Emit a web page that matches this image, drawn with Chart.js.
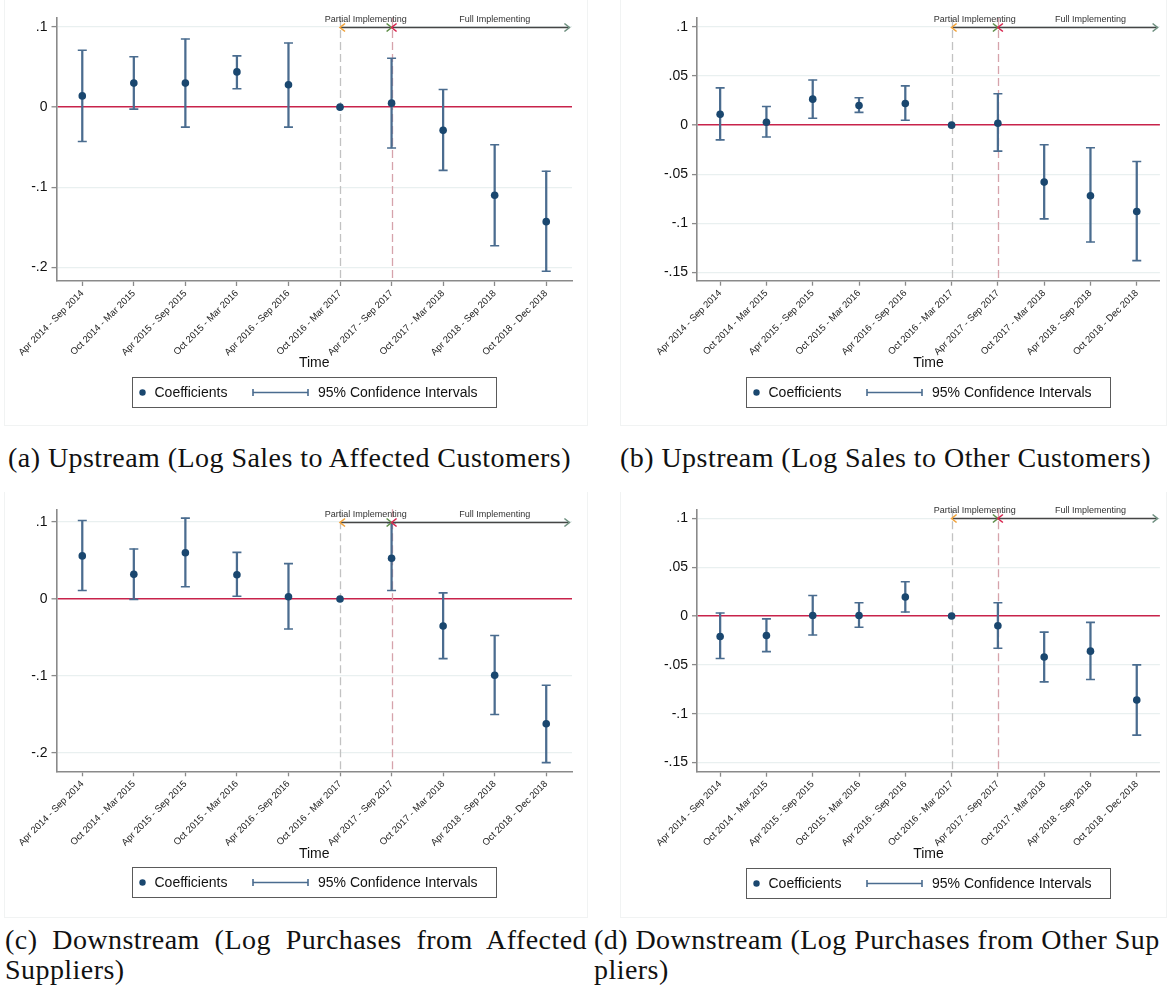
<!DOCTYPE html>
<html>
<head>
<meta charset="utf-8">
<title>Event study: supply-chain responses</title>
<script src="https://cdn.jsdelivr.net/npm/chart.js@4.4.1/dist/chart.umd.min.js"></script>
<style>
  html, body { margin: 0; padding: 0; background: #fff; }
  body { width: 1167px; height: 990px; position: relative; overflow: hidden; }
  .panel { position: absolute; border: 1px solid #f1f3f3; border-top: none; box-sizing: border-box; }
  .panel canvas { display: block; }
  .cap {
    position: absolute;
    font-family: "Liberation Serif", "DejaVu Serif", serif;
    font-size: 28px;
    letter-spacing: 0.45px;
    line-height: 30px;
    color: #111;
    white-space: nowrap;
  }
  .just { text-align: justify; text-align-last: justify; white-space: normal; }
</style>
</head>
<body>

<div class="panel" style="left:4px;top:0;width:584px;height:426px"><canvas id="chartA" width="582" height="425"></canvas></div>
<div class="panel" style="left:620px;top:0;width:547px;height:426px"><canvas id="chartB" width="545" height="425"></canvas></div>
<div class="panel" style="left:4px;top:492px;width:584px;height:426px"><canvas id="chartC" width="582" height="425"></canvas></div>
<div class="panel" style="left:620px;top:492px;width:547px;height:426px"><canvas id="chartD" width="545" height="425"></canvas></div>

<div class="cap" style="left:8px;top:443px">(a) Upstream (Log Sales to Affected Customers)</div>
<div class="cap" style="left:620px;top:443px">(b) Upstream (Log Sales to Other Customers)</div>
<div class="cap just" style="left:5px;top:925px;width:582px">(c) Downstream (Log Purchases from Affected</div>
<div class="cap" style="left:5px;top:955px">Suppliers)</div>
<div class="cap" style="left:594px;top:925px">(d) Downstream (Log Purchases from Other Sup</div>
<div class="cap" style="left:594px;top:955px">pliers)</div>

<script>
// Half-year periods on the horizontal axis
const periods = [
  'Apr 2014 - Sep 2014', 'Oct 2014 - Mar 2015', 'Apr 2015 - Sep 2015',
  'Oct 2015 - Mar 2016', 'Apr 2016 - Sep 2016', 'Oct 2016 - Mar 2017',
  'Apr 2017 - Sep 2017', 'Oct 2017 - Mar 2018', 'Apr 2018 - Sep 2018',
  'Oct 2018 - Dec 2018'
];

// (a) Upstream: log sales to affected customers
const coefA = [0.014, 0.030, 0.030, 0.044, 0.028, 0, 0.005, -0.029, -0.110, -0.143];
const lowA  = [-0.043, -0.0025, -0.025, 0.023, -0.025, null, -0.051, -0.079, -0.173, -0.205];
const highA = [0.071, 0.063, 0.085, 0.064, 0.080, null, 0.061, 0.022, -0.047, -0.080];

// (b) Upstream: log sales to other customers
const coefB = [0.011, 0.003, 0.0265, 0.020, 0.022, 0, 0.002, -0.058, -0.072, -0.088];
const lowB  = [-0.015, -0.012, 0.007, 0.013, 0.005, null, -0.0265, -0.0955, -0.119, -0.138];
const highB = [0.038, 0.019, 0.046, 0.028, 0.040, null, 0.032, -0.020, -0.023, -0.037];

// (c) Downstream: log purchases from affected suppliers
const coefC = [0.056, 0.032, 0.060, 0.0315, 0.003, 0, 0.053, -0.035, -0.099, -0.162];
const lowC  = [0.011, -0.0005, 0.016, 0.0035, -0.039, null, 0.011, -0.0775, -0.150, -0.2125];
const highC = [0.102, 0.065, 0.105, 0.0605, 0.046, null, 0.099, 0.008, -0.0475, -0.112];

// (d) Downstream: log purchases from other suppliers
const coefD = [-0.021, -0.020, 0.0005, 0.0005, 0.0195, 0, -0.010, -0.042, -0.036, -0.086];
const lowD  = [-0.0435, -0.0365, -0.0195, -0.0115, 0.004, null, -0.033, -0.0675, -0.065, -0.122];
const highD = [0.003, -0.003, 0.021, 0.0135, 0.035, null, 0.0135, -0.0165, -0.0065, -0.050];

// Y-axis ticks and their labels
const ticksWide   = [0.1, 0, -0.1, -0.2];
const labelsWide  = ['.1', '0', '-.1', '-.2'];
const ticksFine   = [0.1, 0.05, 0, -0.05, -0.1, -0.15];
const labelsFine  = ['.1', '.05', '0', '-.05', '-.1', '-.15'];

// Policy phases (period indices) and their labels
const partialStart = 5;
const fullStart = 6;
const fullEnd = 9.45;
const phaseLabelY = 0.1;
const partialText = 'Partial Implementing';
const fullText = 'Full Implementing';
const fullTextAt = 8;

const legendText = ['Coefficients', '95% Confidence Intervals'];

// Colours
const NAVY = '#1a476f';
const CI = '#4a6c8f';
const ZERO = '#c8234b';
const GRID = '#e9f0f0';
const AXIS = '#8a8a8a';
const SANS = '"Liberation Sans", Arial, sans-serif';

function capArrow(ctx, x, y, dir, color) {
  // dir = 1 : head pointing left ; dir = -1 : head pointing right
  ctx.save();
  ctx.strokeStyle = color;
  ctx.lineWidth = 1.6;
  ctx.beginPath();
  ctx.moveTo(x + dir * 5, y - 4);
  ctx.lineTo(x, y);
  ctx.lineTo(x + dir * 5, y + 4);
  ctx.stroke();
  ctx.restore();
}

const phasePlugin = {
  id: 'phases',
  beforeDatasetsDraw(chart) {
    const { ctx, chartArea: a, scales: { x } } = chart;
    ctx.save();
    ctx.lineWidth = 1.3;
    ctx.setLineDash([8, 4]);
    [[partialStart, '#c2c2c2'], [fullStart, '#d6a3ab']].forEach(([idx, col]) => {
      const px = Math.round(x.getPixelForValue(idx)) + 0.5;
      ctx.strokeStyle = col;
      ctx.beginPath();
      ctx.moveTo(px, a.top);
      ctx.lineTo(px, a.bottom);
      ctx.stroke();
    });
    ctx.restore();
  },
  afterDatasetsDraw(chart) {
    const { ctx, scales: { x, y } } = chart;
    const yy = Math.round(y.getPixelForValue(phaseLabelY)) + 0.5;
    const x0 = x.getPixelForValue(partialStart);
    const x1 = x.getPixelForValue(fullStart);
    const x2 = x.getPixelForValue(fullEnd);
    ctx.save();
    ctx.strokeStyle = '#454545';
    ctx.lineWidth = 1.6;
    ctx.beginPath();
    ctx.moveTo(x0 + 1, yy); ctx.lineTo(x1 - 1, yy);
    ctx.moveTo(x1 + 1, yy); ctx.lineTo(x2 - 1, yy);
    ctx.stroke();
    capArrow(ctx, x0, yy, 1, '#f2a33a');
    capArrow(ctx, x1, yy, -1, '#5f8f4a');
    capArrow(ctx, x1, yy, 1, '#d8264f');
    capArrow(ctx, x2, yy, -1, '#6f9080');
    ctx.fillStyle = '#333';
    ctx.font = '9px ' + SANS;
    ctx.textAlign = 'center';
    ctx.textBaseline = 'middle';
    ctx.fillText(partialText, x.getPixelForValue((partialStart + fullStart) / 2), yy - 8);
    ctx.fillText(fullText, x.getPixelForValue(fullTextAt), yy - 8);
    ctx.restore();
  }
};

const boxLegendPlugin = {
  id: 'boxLegend',
  afterDraw(chart) {
    const { ctx, chartArea: a, scales: { x } } = chart;
    ctx.save();
    ctx.font = '14px ' + SANS;
    const w1 = ctx.measureText(legendText[0]).width;
    const w2 = ctx.measureText(legendText[1]).width;
    const s0off = Math.max(120.5, 22 + w1 + 24);
    const width = Math.max(364, s0off + 55 + 10 + w2 + 14);
    const h = 30;
    const left = Math.round((a.left + a.right) / 2 - width / 2) + 0.5;
    const top = Math.round(x.bottom) + 1.5;
    const cy = top + h / 2;
    ctx.strokeStyle = '#5a5a5a';
    ctx.lineWidth = 1;
    ctx.strokeRect(left, top, width, h);
    // marker
    ctx.fillStyle = NAVY;
    ctx.beginPath();
    ctx.arc(left + 10, cy, 3.2, 0, Math.PI * 2);
    ctx.fill();
    ctx.fillStyle = '#111';
    ctx.textBaseline = 'middle';
    ctx.textAlign = 'left';
    ctx.fillText(legendText[0], left + 22, cy + 1);
    // capped interval symbol
    const s0 = left + s0off, s1 = s0 + 55;
    ctx.strokeStyle = CI;
    ctx.lineWidth = 1.6;
    ctx.beginPath();
    ctx.moveTo(s0, cy); ctx.lineTo(s1, cy);
    ctx.moveTo(s0, cy - 3.5); ctx.lineTo(s0, cy + 3.5);
    ctx.moveTo(s1, cy - 3.5); ctx.lineTo(s1, cy + 3.5);
    ctx.stroke();
    ctx.fillStyle = '#111';
    ctx.fillText(legendText[1], s1 + 10, cy + 1);
    ctx.restore();
  }
};

function makeChart(id, coef, low, high, yMin, yMax, tickVals, tickLabels, lay) {
  const intervals = low.map((l, i) => (l === null ? null : [l, high[i]]));
  return new Chart(document.getElementById(id), {
    type: 'bar',
    data: {
      labels: periods,
      datasets: [
        {
          type: 'line', label: legendText[0], data: coef, order: 0,
          showLine: false, pointStyle: 'circle', pointRadius: 3.8, pointHoverRadius: 3.8,
          pointBackgroundColor: NAVY, pointBorderWidth: 0
        },
        {
          type: 'line', label: 'lower', data: low, order: 1,
          showLine: false, pointStyle: 'line', pointRadius: 4.5, pointHoverRadius: 4.5,
          pointBorderColor: CI, pointBorderWidth: 1.6
        },
        {
          type: 'line', label: 'upper', data: high, order: 1,
          showLine: false, pointStyle: 'line', pointRadius: 4.5, pointHoverRadius: 4.5,
          pointBorderColor: CI, pointBorderWidth: 1.6
        },
        {
          type: 'bar', label: legendText[1], data: intervals, order: 2,
          backgroundColor: CI, borderWidth: 0, barThickness: 1.6
        }
      ]
    },
    options: {
      responsive: false,
      animation: false,
      events: [],
      layout: { padding: { top: lay.top, right: lay.right, bottom: lay.bottom, left: 0 } },
      plugins: { legend: { display: false }, tooltip: { enabled: false } },
      scales: {
        x: {
          type: 'category',
          offset: true,
          grid: { display: true, drawOnChartArea: false, offset: false, tickLength: 5, tickColor: AXIS, tickWidth: 1.3 },
          border: { color: AXIS, width: 1.6 },
          ticks: {
            autoSkip: false, maxRotation: 45, minRotation: 45, padding: 2,
            color: '#222', font: { family: SANS, size: 9.5 }
          },
          title: { display: true, text: 'Time', color: '#111', font: { family: SANS, size: 14 }, padding: { top: 2, bottom: 4 } },
          afterFit(s) { s.height = 95; }
        },
        y: {
          min: yMin, max: yMax,
          grid: {
            color: c => (c.tick && c.tick.value === 0 ? ZERO : GRID),
            lineWidth: c => (c.tick && c.tick.value === 0 ? 1.6 : 1.2),
            tickLength: 5, tickColor: AXIS, tickWidth: 1.3
          },
          border: { color: AXIS, width: 1.6 },
          ticks: {
            padding: 4, color: '#111', font: { family: SANS, size: 14 },
            callback: (v) => { const k = tickVals.findIndex(t => Math.abs(t - v) < 1e-9); return k >= 0 ? tickLabels[k] : ''; }
          },
          afterBuildTicks(s) { s.ticks = tickVals.map(v => ({ value: v })); },
          afterFit(s) { s.width = lay.yWidth; }
        }
      }
    },
    plugins: [phasePlugin, boxLegendPlugin]
  });
}

makeChart('chartA', coefA, lowA, highA, -0.2171, 0.1113, ticksWide, labelsWide,
  { top: 18, right: 15, bottom: 49, yWidth: 51.5 });
makeChart('chartB', coefB, lowB, highB, -0.1585, 0.1092, ticksFine, labelsFine,
  { top: 18, right: 5, bottom: 49.3, yWidth: 76 });
makeChart('chartC', coefC, lowC, highC, -0.2238, 0.1165, ticksWide, labelsWide,
  { top: 17.3, right: 15, bottom: 50.7, yWidth: 51.5 });
makeChart('chartD', coefD, lowD, highD, -0.1594, 0.1092, ticksFine, labelsFine,
  { top: 17.3, right: 5, bottom: 50.3, yWidth: 76 });
</script>
</body>
</html>
